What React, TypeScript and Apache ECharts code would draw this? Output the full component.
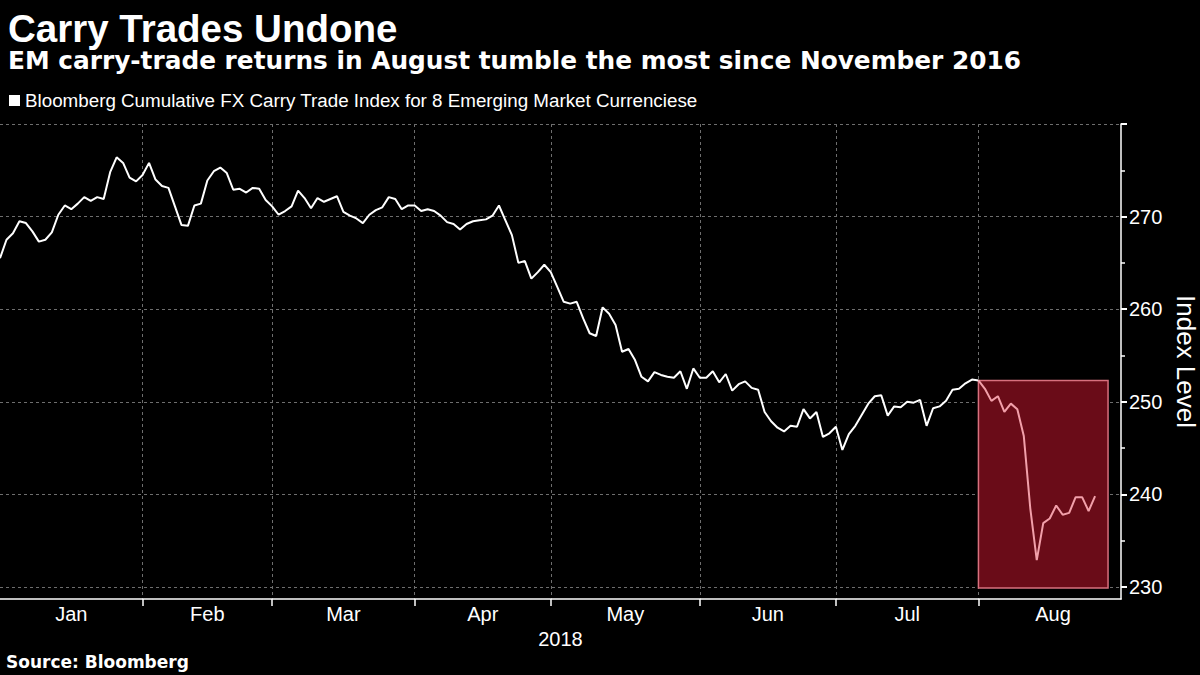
import React, { useEffect, useRef } from 'react';
import * as echarts from 'echarts';

const TITLE = 'Carry Trades Undone';
const SUBTITLE = 'EM carry-trade returns in August tumble the most since November 2016';
const SERIES_NAME = 'Bloomberg Cumulative FX Carry Trade Index for 8 Emerging Market Currenciese';
const SOURCE = 'Source: Bloomberg';
const AXIS_NAME = 'Index Level';
const YEAR_LABEL = '2018';

const FIRST_DAY = '2018-01-02';
const LAST_DAY = '2018-08-31';
const MONTH_NAMES = ['Jan', 'Feb', 'Mar', 'Apr', 'May', 'Jun', 'Jul', 'Aug'];

// Index level, one value per trading day starting 2018-01-02
const indexValues = [
  265.5, 267.5, 268.2, 269.5, 269.3, 268.4, 267.3, 267.5, 268.3, 270.2,
  271.2, 270.8, 271.4, 272.1, 271.7, 272.1, 271.9, 274.8, 276.4, 275.8,
  274.2, 273.8, 274.5, 275.8, 274.0, 273.3, 273.1, 271.1, 269.1, 269.0,
  271.2, 271.4, 273.9, 274.9, 275.3, 274.7, 272.9, 273.0, 272.6, 273.1,
  273.0, 271.8, 271.1, 270.2, 270.6, 271.1, 272.8, 272.0, 270.9, 272.0,
  271.6, 271.9, 272.2, 270.5, 270.1, 269.8, 269.3, 270.2, 270.7, 271.0,
  272.1, 271.9, 270.8, 271.2, 271.2, 270.6, 270.8, 270.6, 270.1, 269.4,
  269.2, 268.6, 269.2, 269.5, 269.6, 269.7, 270.1, 271.2, 269.6, 268.0,
  265.0, 265.2, 263.3, 264.0, 264.8, 264.0, 262.4, 260.8, 260.6, 260.8,
  259.0, 257.4, 257.1, 260.2, 259.5, 258.3, 255.4, 255.7, 254.5, 252.7,
  252.2, 253.2, 252.9, 252.7, 252.6, 253.3, 251.4, 253.6, 252.6, 252.6,
  253.3, 252.1, 253.0, 251.2, 251.9, 252.2, 251.5, 251.3, 248.9, 247.9,
  247.2, 246.8, 247.4, 247.3, 249.2, 248.2, 248.9, 246.2, 246.6, 247.3,
  244.8, 246.5, 247.4, 248.6, 249.8, 250.6, 250.7, 248.5, 249.5, 249.4,
  250.0, 249.9, 250.2, 247.4, 249.3, 249.5, 250.1, 251.3, 251.4, 252.0,
  252.4, 252.3, 251.4, 250.1, 250.6, 248.9, 249.8, 249.2, 246.3, 238.5,
  232.9, 236.9, 237.4, 238.8, 237.8, 238.0, 239.7, 239.7, 238.2, 239.8,
];

const Y_MIN = 228.7;
const Y_MAX = 280;
const Y_MAJOR_TICKS = [230, 240, 250, 260, 270, 280];
const Y_LABELS = [230, 240, 250, 260, 270];
const Y_MINOR_TICKS = [235, 245, 255, 265, 275];

const HIGHLIGHT_START = '2018-08-01';
const HIGHLIGHT_END = '2018-08-29';
const HIGHLIGHT_TOP = 252.3;
const HIGHLIGHT_BOTTOM = 229.9;

function tradingDays(from: string, to: string): string[] {
  const out: string[] = [];
  const d = new Date(from + 'T00:00:00Z');
  const end = new Date(to + 'T00:00:00Z');
  while (d <= end) {
    const w = d.getUTCDay();
    if (w !== 0 && w !== 6) out.push(d.toISOString().slice(0, 10));
    d.setUTCDate(d.getUTCDate() + 1);
  }
  return out;
}

export default function App() {
  const ref = useRef<HTMLDivElement>(null);

  useEffect(() => {
    document.body.style.margin = '0';
    document.body.style.background = '#000';
    if (!ref.current) return;
    const chart = echarts.init(ref.current, undefined, { renderer: 'svg' });

    const dates = tradingDays(FIRST_DAY, LAST_DAY);
    const monthStarts: number[] = [];
    for (let i = 1; i < dates.length; i++) {
      if (dates[i].slice(5, 7) !== dates[i - 1].slice(5, 7)) monthStarts.push(i);
    }
    const bounds = [0, ...monthStarts, dates.length];
    const monthMids = MONTH_NAMES.map((_, m) => (bounds[m] + bounds[m + 1]) / 2);
    const monthStartSet = new Set(monthStarts);
    const hiIdx = dates.indexOf(HIGHLIGHT_START);

    const whiteData = indexValues.map((v, i) => (i <= hiIdx ? v : '-'));
    const pinkData = indexValues.map((v, i) => (i >= hiIdx ? v : '-'));

    const gridLine = { show: true, lineStyle: { color: '#6e6e6e', type: [3, 3], width: 1 } };

    chart.setOption({
      animation: false,
      backgroundColor: '#000',
      title: [
        {
          text: TITLE,
          left: 3,
          top: 4,
          textStyle: { color: '#fff', fontSize: 38.5, fontWeight: 'bold', fontFamily: 'Liberation Sans' },
        },
        {
          text: SUBTITLE,
          left: 3,
          top: 43,
          textStyle: { color: '#fff', fontSize: 24.8, fontWeight: 'bold', fontFamily: 'DejaVu Sans' },
        },
      ],
      legend: {
        data: [SERIES_NAME],
        left: 9,
        top: 91,
        padding: 0,
        icon: 'rect',
        itemWidth: 11,
        itemHeight: 11,
        textStyle: { color: '#fff', fontSize: 18.8, fontFamily: 'Liberation Sans' },
      },
      grid: { left: 0, right: 79, top: 124, bottom: 76, containLabel: false, outerBoundsMode: 'none' },
      xAxis: [
        {
          type: 'category',
          data: dates,
          boundaryGap: false,
          position: 'bottom',
          axisLine: { show: true, onZero: false, lineStyle: { color: '#fff', width: 1.5 } },
          axisTick: {
            show: true,
            length: 7,
            interval: (idx: number) => monthStartSet.has(idx),
            lineStyle: { color: '#fff', width: 1.5 },
          },
          splitLine: { ...gridLine, interval: (idx: number) => monthStartSet.has(idx) },
          axisLabel: { show: false },
        },
        {
          type: 'value',
          min: 0,
          max: dates.length - 1,
          position: 'bottom',
          axisLine: { show: false, onZero: false },
          axisTick: { show: false },
          splitLine: { show: false },
          axisLabel: {
            show: true,
            customValues: monthMids,
            margin: 5,
            color: '#fff',
            fontSize: 20,
            fontFamily: 'Liberation Sans',
            formatter: (val: number) => {
              let best = 0;
              monthMids.forEach((m, k) => {
                if (Math.abs(m - val) < Math.abs(monthMids[best] - val)) best = k;
              });
              return MONTH_NAMES[best];
            },
          },
          name: YEAR_LABEL,
          nameLocation: 'middle',
          nameGap: 28,
          nameTextStyle: { color: '#fff', fontSize: 20, fontFamily: 'Liberation Sans' },
        },
      ],
      yAxis: [
        {
          type: 'value',
          position: 'right',
          min: Y_MIN,
          max: Y_MAX,
          axisLine: { show: true, onZero: false, lineStyle: { color: '#fff', width: 1.5 } },
          axisTick: { show: true, customValues: Y_MAJOR_TICKS, length: 6, lineStyle: { color: '#fff', width: 2 } },
          axisLabel: {
            show: true,
            customValues: Y_LABELS,
            margin: 8,
            color: '#fff',
            fontSize: 20,
            fontFamily: 'Liberation Sans',
          },
          splitLine: gridLine,
          name: AXIS_NAME,
          nameLocation: 'middle',
          nameRotate: -90,
          nameGap: 52,
          nameTextStyle: { color: '#fff', fontSize: 26, fontFamily: 'Liberation Sans' },
        },
        {
          type: 'value',
          position: 'right',
          min: Y_MIN,
          max: Y_MAX,
          axisLine: { show: false, onZero: false },
          axisTick: { show: true, customValues: Y_MINOR_TICKS, length: 4, lineStyle: { color: '#fff', width: 1.5 } },
          axisLabel: { show: false },
          splitLine: { show: false },
        },
      ],
      series: [
        {
          name: SERIES_NAME,
          type: 'line',
          xAxisIndex: 0,
          yAxisIndex: 0,
          data: whiteData,
          showSymbol: false,
          symbol: 'none',
          color: '#fff',
          lineStyle: { color: '#fff', width: 2 },
          z: 2,
          markArea: {
            silent: true,
            itemStyle: { color: '#6a0c18', borderColor: '#d8707e', borderWidth: 1.5 },
            data: [
              [
                { xAxis: HIGHLIGHT_START, yAxis: HIGHLIGHT_TOP },
                { xAxis: HIGHLIGHT_END, yAxis: HIGHLIGHT_BOTTOM },
              ],
            ],
          },
        },
        {
          name: 'highlight',
          type: 'line',
          xAxisIndex: 0,
          yAxisIndex: 0,
          data: pinkData,
          showSymbol: false,
          symbol: 'none',
          color: '#f2a0aa',
          lineStyle: { color: '#f2a0aa', width: 2 },
          z: 4,
        },
      ],
      graphic: [
        {
          type: 'text',
          left: 6,
          top: 653,
          style: {
            text: SOURCE,
            fill: '#fff',
            font: 'bold 17px "DejaVu Sans"',
          },
        },
      ],
    });

    return () => chart.dispose();
  }, []);

  return (
    <div
      ref={ref}
      style={{ position: 'absolute', left: 0, top: 0, width: 1200, height: 675, background: '#000' }}
    />
  );
}
